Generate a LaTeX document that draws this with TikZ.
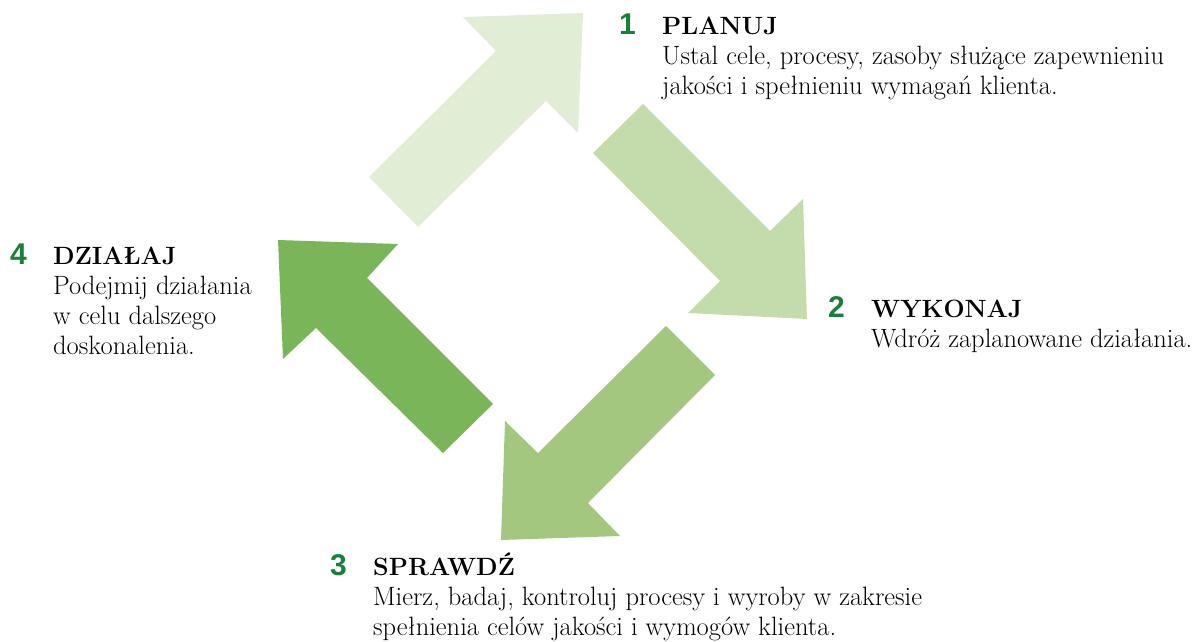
\documentclass[tikz,border=0pt]{standalone}
\usepackage{fontspec}
\usepackage{tikz}
\usepackage{xcolor}
\newfontfamily\numfont{Liberation Sans}
\definecolor{planuj}{HTML}{E2EDD6}
\definecolor{wykonaj}{HTML}{C4DBAC}
\definecolor{sprawdz}{HTML}{A3C77F}
\definecolor{dzialaj}{HTML}{7AB55A}
\definecolor{numgreen}{HTML}{1A7F3E}
\usetikzlibrary{shapes,arrows}

\begin{document}
\begin{tikzpicture}[x=1pt,y=-1pt]
  \useasboundingbox (0,0) rectangle (1195,642);

  \fill[planuj] (418,227) -- (369,177) -- (496,51) -- (463,17) -- (583,13) -- (578,133) -- (546,101) -- cycle;
  \fill[wykonaj] (643,104) -- (593,153) -- (720,281) -- (688,313) -- (807,319) -- (803,199) -- (770,231) -- cycle;
  \fill[sprawdz] (666,326) -- (715,375) -- (588,503) -- (620,536) -- (501,540) -- (505,421) -- (538,453) -- cycle;
  \fill[dzialaj] (443,453) -- (493,404) -- (367,278) -- (398,244) -- (278,240) -- (283,359) -- (316,328) -- cycle;

  \foreach \x/\y/\n/\id/\name/\body in {619/35/2/1/PLANUJ/{Ustal cele, procesy, zasoby służące zapewnieniu\\jakości i spełnieniu wymagań klienta.}, 828/317/1/2/WYKONAJ/{Wdróż zaplanowane działania.}, 330/575/2/3/SPRAWDŹ/{Mierz, badaj, kontroluj procesy i wyroby w zakresie\\spełnienia celów jakości i wymogów klienta.}, 10/264/3/4/DZIAŁAJ/{Podejmij działania\\w celu dalszego\\doskonalenia.}}{
    \node[anchor=base west, inner sep=0pt, text=numgreen, font=\numfont\bfseries\fontsize{30}{30}\selectfont] (n\id) at (\x,\y) {\id};
    \node[anchor=base west, inner sep=0pt, font=\bfseries\fontsize{25}{30}\selectfont] (t\id) at (\x+43,\y) {\name};
    \node[anchor=base west, inner sep=0pt, align=left, font=\fontsize{26.5}{30}\selectfont] (b\id) at (\x+43,\y+30*\n) {\body}; }
\end{tikzpicture}
\end{document}
